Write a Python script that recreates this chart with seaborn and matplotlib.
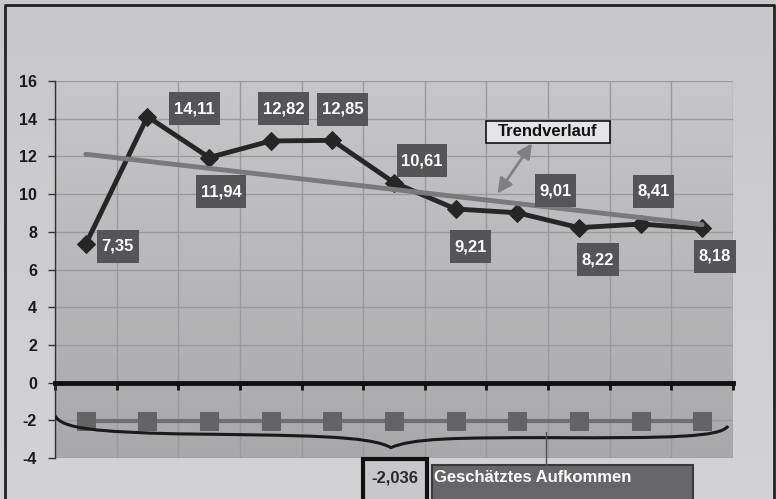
import numpy as np
import matplotlib
matplotlib.use("Agg")
import matplotlib.pyplot as plt
import seaborn as sns
from matplotlib.patches import Rectangle, PathPatch
from matplotlib.path import Path
from matplotlib.lines import Line2D
from matplotlib.transforms import Affine2D, ScaledTranslation

# Daten
perioden = list(range(1, 12))
werte = [7.35, 14.11, 11.94, 12.82, 12.85, 10.61, 9.21, 9.01, 8.22, 8.41, 8.18]
aufkommen = [-2.036] * 11
y_ticks = [-4, -2, 0, 2, 4, 6, 8, 10, 12, 14, 16]
label_trend = "Trendverlauf"
label_aufkommen = "Geschätztes Aufkommen"
label_wert = "-2,036"

# Versatz der Wertelabels (Pixel)
label_offsets = [(32, -2), (47, 8), (12, -34), (13, 32), (10, 31), (28, 22),
                 (15, -38), (38, 22), (19, -32), (13, 33), (13, -28)]

plt.rcParams['font.family'] = ['Liberation Sans', 'DejaVu Sans']
plt.rcParams['axes.unicode_minus'] = False

W, H = 776, 499
fig = plt.figure(figsize=(W / 100, H / 100), dpi=100, facecolor='#cacacc')

# Hintergrund mit leichtem Verlauf
bg = fig.add_axes([0, 0, 1, 1])
bg.imshow(np.linspace(0, 1, 100).reshape(-1, 1), cmap=matplotlib.colors.LinearSegmentedColormap.from_list(
    'bg', ['#c8c8ca', '#d3d3d5']), aspect='auto', extent=[0, 1, 0, 1], origin='upper')
bg.set_xlim(0, 1)
bg.set_ylim(0, 1)
bg.axis('off')

ax = fig.add_axes([55 / W, 1 - 458 / H, (733 - 55) / W, (458 - 81) / H])
ax.set_facecolor('none')

# Verlauf im Plotbereich
ax.imshow(np.linspace(0, 1, 100).reshape(-1, 1),
          cmap=matplotlib.colors.LinearSegmentedColormap.from_list('pa', ['#c7c7c9', '#a9a9ab']),
          aspect='auto', extent=[0.5, 11.5, -4, 16], origin='upper', zorder=-1)

sns.lineplot(x=perioden, y=aufkommen, ax=ax, color='#707072', lw=3,
             marker='s', markersize=13, markerfacecolor='#646466', markeredgecolor='#646466', zorder=3)
sns.lineplot(x=perioden, y=werte, ax=ax, color='#262626', lw=3.5,
             marker='D', markersize=9, markerfacecolor='#262626', markeredgecolor='#262626', zorder=4)
sns.regplot(x=perioden, y=werte, ax=ax, scatter=False, ci=None, truncate=True,
            line_kws=dict(color='#7a7a7c', lw=3.5, zorder=5, solid_capstyle='round'))

ax.set_xlim(0.5, 11.5)
ax.set_ylim(-4, 16)
ax.set_xlabel('')
ax.set_ylabel('')
ax.set_xticks(np.arange(0.5, 12, 1))
ax.set_xticklabels([])
ax.set_yticks(y_ticks)
ax.set_yticklabels([str(t) for t in y_ticks], fontsize=11.5, fontweight='bold', color='#1a1a1a')
ax.grid(True, color='#9a9a9c', lw=1)
ax.set_axisbelow(True)

for s in ['top', 'right']:
    ax.spines[s].set_visible(False)
ax.spines['bottom'].set_position(('data', 0))
ax.spines['bottom'].set_linewidth(3.5)
ax.spines['bottom'].set_color('#111111')
ax.spines['bottom'].set_zorder(2.5)
ax.spines['left'].set_color('#333333')
ax.spines['left'].set_linewidth(1)
ax.tick_params(axis='x', direction='out', length=5, width=2, color='#111111')
ax.tick_params(axis='y', direction='out', length=5, width=1, color='#333333', pad=8)

# Wertelabels mit Kästchen (Pixelgröße)
for x, v, (dx, dy) in zip(perioden, werte, label_offsets):
    txt = f"{v:.2f}".replace('.', ',')
    bw = 9.3 * (len(txt) - 1) + 4.6 + 9
    bh = 33
    tr = Affine2D().translate(dx, dy) + ScaledTranslation(x, v, ax.transData)
    ax.add_patch(Rectangle((-bw / 2, -bh / 2), bw, bh, transform=tr, fc='#555557', ec='none',
                           zorder=6, clip_on=False))
    ax.annotate(txt, (x, v), xytext=(dx, dy), textcoords='offset pixels',
                ha='center', va='center', fontsize=12, fontweight='bold', color='white', zorder=7)

# Trendverlauf-Beschriftung mit Doppelpfeil
fig.patches.append(Rectangle((486 / W, 1 - 143 / H), 124 / W, 22 / H, transform=fig.transFigure,
                             fc='#e4e4e6', ec='#111111', lw=1.2, zorder=6))
fig.text(548 / W, 1 - 132 / H, label_trend, ha='center', va='center', fontsize=12,
         fontweight='bold', color='#111111', zorder=7)
ax.annotate('', xy=(7.68, 10.03), xytext=(8.24, 12.69),
            arrowprops=dict(arrowstyle='<|-|>', color='#808082', lw=2, mutation_scale=22,
                            shrinkA=0, shrinkB=0), zorder=6)

# Geschweifte Klammer
verts = [(0.5, -1.75), (0.6, -2.45), (1.2, -2.62), (2.5, -2.72),
         (4.5, -2.8), (5.6, -2.8), (5.95, -3.45),
         (6.3, -2.95), (7.0, -2.92), (8.5, -2.92),
         (10.5, -2.95), (11.3, -2.9), (11.42, -2.3)]
codes = [Path.MOVETO] + [Path.CURVE4] * 12
ax.add_patch(PathPatch(Path(verts, codes), fc='none', ec='#1a1a1a', lw=2.2, zorder=4))

# Untere Beschriftungen
fig.lines.append(Line2D([546 / W, 546 / W], [1 - 432 / H, 1 - 465 / H], transform=fig.transFigure,
                        color='#505052', lw=1))
fig.patches.append(Rectangle((363 / W, -0.05), 64 / W, 0.05 + 1 - 459 / H, transform=fig.transFigure,
                             fc='#c8c8ca', ec='#111111', lw=3))
fig.text(395 / W, 1 - 478 / H, label_wert, ha='center', va='center', fontsize=12,
         fontweight='bold', color='#2a2a2a')
fig.patches.append(Rectangle((432 / W, -0.05), 261 / W, 0.05 + 1 - 465 / H, transform=fig.transFigure,
                             fc='#666668', ec='#3a3a3a', lw=1.5))
fig.text(434 / W, 1 - 477 / H, label_aufkommen, ha='left', va='center', fontsize=12,
         fontweight='bold', color='white')

# Rahmen
fig.lines.append(Line2D([5 / W, 5 / W, 774 / W, 774 / W], [-0.05, 1 - 5 / H, 1 - 5 / H, -0.05],
                        transform=fig.transFigure, color='#222222', lw=2))

fig.savefig('out.png', dpi=100, facecolor=fig.get_facecolor())
